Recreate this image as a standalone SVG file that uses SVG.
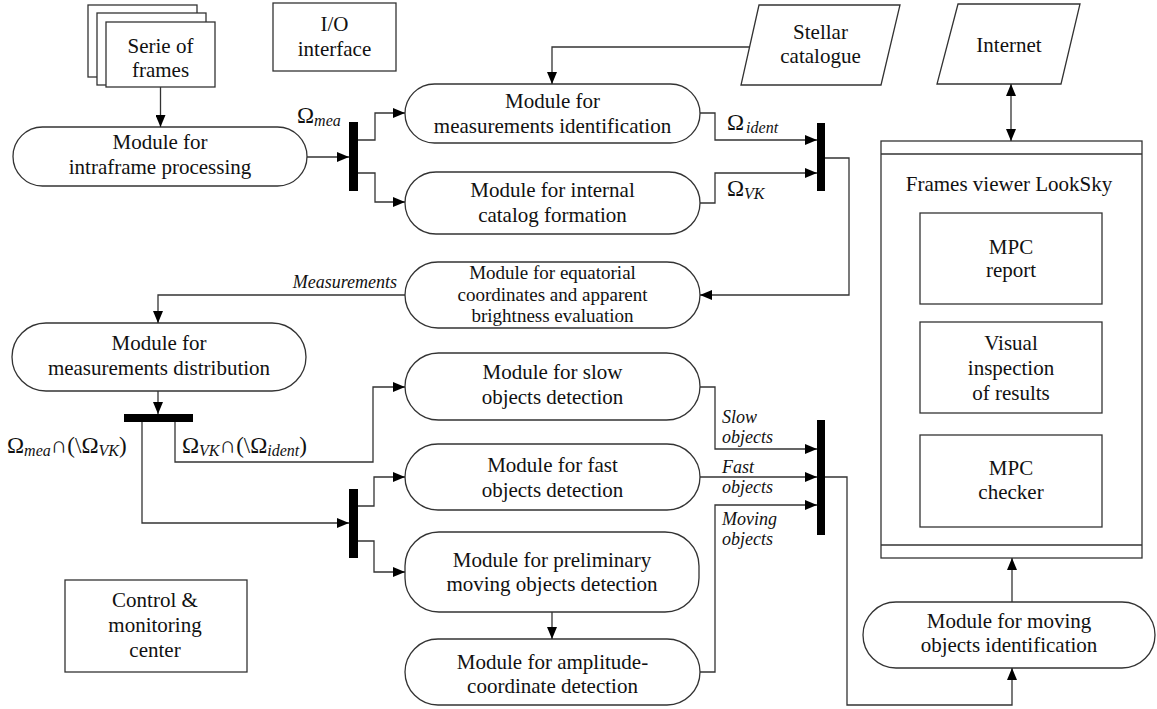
<svg xmlns="http://www.w3.org/2000/svg" width="1157" height="709" viewBox="0 0 1157 709">
<defs>
<marker id="arr" viewBox="0 0 12 10" refX="12" refY="5" markerWidth="12" markerHeight="10" orient="auto-start-reverse" markerUnits="userSpaceOnUse">
<path d="M0,0 L12,5 L0,10 z" fill="#000"/>
</marker>
</defs>
<style>
.n{fill:#fff;stroke:#333;stroke-width:1.3}
.bar{fill:#000;stroke:none}
text{font-family:'Liberation Serif','Nimbus Roman','Nimbus Roman No9 L',FreeSerif,'Noto Serif','DejaVu Serif',Times,serif}
.t{font-size:21px;fill:#111;text-anchor:middle}
.s{font-size:19px;fill:#111;text-anchor:middle}
.i{font-size:18px;font-style:italic;fill:#111}
.o{font-size:23px;fill:#111}
.sub{font-size:16px;font-style:italic}
.c path{fill:none;stroke:#333;stroke-width:1.3}
.c .a{marker-end:url(#arr)}
</style>
<rect width="1157" height="709" fill="#fff"/>

<g id="serie">
<rect class="n" x="88" y="5" width="109" height="72"/>
<rect class="n" x="97" y="13" width="109" height="72"/>
<rect class="n" x="106" y="22" width="109" height="65"/>
<text class="t" x="160.5" y="53">Serie of</text>
<text class="t" x="160.5" y="77">frames</text>
</g>

<g id="io">
<rect class="n" x="273" y="3" width="123" height="68"/>
<text class="t" x="334.5" y="31">I/O</text>
<text class="t" x="334.5" y="56">interface</text>
</g>

<g id="stellar">
<path class="n" d="M759,5 L900,5 L881,85 L741,85 Z"/>
<text class="t" x="820.5" y="39">Stellar</text>
<text class="t" x="820.5" y="63">catalogue</text>
</g>

<g id="internet">
<path class="n" d="M958,4 L1080,4 L1061,84 L937,84 Z"/>
<text class="t" x="1009" y="52">Internet</text>
</g>

<g id="intraframe">
<rect class="n" x="13" y="127" width="294" height="59" rx="29.5"/>
<text class="t" x="160" y="149">Module for</text>
<text class="t" x="160" y="174">intraframe processing</text>
</g>

<g id="measident">
<rect class="n" x="405" y="84" width="295" height="59" rx="29.5"/>
<text class="t" x="552.5" y="108">Module for</text>
<text class="t" x="552.5" y="133">measurements identification</text>
</g>

<g id="internal">
<rect class="n" x="405" y="172" width="295" height="62" rx="31"/>
<text class="t" x="552.5" y="197">Module for internal</text>
<text class="t" x="552.5" y="222">catalog formation</text>
</g>

<g id="equatorial">
<rect class="n" x="405" y="262" width="295" height="66" rx="33"/>
<text class="s" x="552.5" y="279">Module for equatorial</text>
<text class="s" x="552.5" y="301">coordinates and apparent</text>
<text class="s" x="552.5" y="322">brightness evaluation</text>
</g>

<g id="distribution">
<rect class="n" x="12" y="323" width="294" height="68" rx="34"/>
<text class="t" x="159" y="350">Module for</text>
<text class="t" x="159" y="375">measurements distribution</text>
</g>

<g id="slow">
<rect class="n" x="405" y="353" width="295" height="67" rx="33.5"/>
<text class="t" x="552.5" y="379">Module for slow</text>
<text class="t" x="552.5" y="404">objects detection</text>
</g>

<g id="fast">
<rect class="n" x="405" y="444" width="295" height="66" rx="33"/>
<text class="t" x="552.5" y="472">Module for fast</text>
<text class="t" x="552.5" y="497">objects detection</text>
</g>

<g id="preliminary">
<rect class="n" x="405" y="532" width="294" height="80" rx="34"/>
<text class="t" x="552" y="567">Module for preliminary</text>
<text class="t" x="552" y="591">moving objects detection</text>
</g>

<g id="amplitude">
<rect class="n" x="405" y="639" width="295" height="66" rx="33"/>
<text class="t" x="552.5" y="669">Module for amplitude-</text>
<text class="t" x="552.5" y="693">coordinate detection</text>
</g>

<g id="control">
<rect class="n" x="65" y="580" width="182" height="92"/>
<text class="t" x="155" y="607">Control &amp;</text>
<text class="t" x="155" y="632">monitoring</text>
<text class="t" x="155" y="657">center</text>
</g>

<g id="viewer">
<rect class="n" x="881" y="141" width="261" height="417"/>
<line x1="881" y1="154" x2="1142" y2="154" stroke="#333" stroke-width="1.3"/>
<line x1="881" y1="545" x2="1142" y2="545" stroke="#333" stroke-width="1.3"/>
<text class="t" x="1009" y="191">Frames viewer LookSky</text>
</g>

<g id="mpcreport">
<rect class="n" x="920" y="213" width="182" height="91"/>
<text class="t" x="1011" y="254">MPC</text>
<text class="t" x="1011" y="277">report</text>
</g>

<g id="visual">
<rect class="n" x="920" y="322" width="182" height="91"/>
<text class="t" x="1011" y="350">Visual</text>
<text class="t" x="1011" y="375">inspection</text>
<text class="t" x="1011" y="400">of results</text>
</g>

<g id="mpcchecker">
<rect class="n" x="920" y="435" width="182" height="92"/>
<text class="t" x="1011" y="475">MPC</text>
<text class="t" x="1011" y="499">checker</text>
</g>

<g id="movingident">
<rect class="n" x="863" y="602" width="292" height="66" rx="33"/>
<text class="t" x="1009" y="628">Module for moving</text>
<text class="t" x="1009" y="652">objects identification</text>
</g>

<g id="bars">
<rect class="bar" x="349" y="122" width="9" height="69"/>
<rect class="bar" x="817" y="123" width="8" height="68"/>
<rect class="bar" x="124" y="414" width="69" height="8"/>
<rect class="bar" x="349" y="489" width="9" height="69"/>
<rect class="bar" x="817" y="420" width="8" height="115"/>
</g>

<g id="connectors" class="c">
<path class="a" d="M160.5,87 V127"/>
<path class="a" d="M307,157 H349"/>
<path class="a" d="M358,140 H375 V113 H405"/>
<path class="a" d="M358,173 H375 V202 H405"/>
<path class="a" d="M750,47 H552 V84"/>
<path class="a" d="M700,113 H715 V140 H817"/>
<path class="a" d="M700,203 H715 V173 H817"/>
<path class="a" d="M825,158 H849 V295 H700"/>
<path class="a" d="M405,295 H158 V323"/>
<path class="a" d="M158,391 V414"/>
<path class="a" d="M142,422 V523 H349"/>
<path class="a" d="M175,422 V462 H373 V387 H405"/>
<path class="a" d="M358,506 H374 V477 H405"/>
<path class="a" d="M358,541 H374 V572 H405"/>
<path class="a" d="M552,612 V639"/>
<path class="a" d="M700,387 H715 V449 H817"/>
<path class="a" d="M700,477 H817"/>
<path class="a" d="M700,672 H715 V505 H817"/>
<path class="a" d="M825,477 H847 V705 H1012 V668"/>
<path class="a" d="M1012,602 V558"/>
<path class="a" d="M1011,84 V141" style="marker-start:url(#arr)"/>
</g>

<g id="labels">
<text class="o" x="297" y="123">Ω<tspan class="sub" dy="3">mea</tspan></text>
<text class="o" x="727" y="130">Ω<tspan class="sub" dx="2" dy="3">ident</tspan></text>
<text class="o" x="727" y="196">Ω<tspan class="sub" dy="3">VK</tspan></text>
<text class="o" x="7" y="453">Ω<tspan class="sub" dy="3">mea</tspan><tspan dy="-3">∩(\Ω</tspan><tspan class="sub" dy="3">VK</tspan><tspan dy="-3">)</tspan></text>
<text class="o" x="182" y="453">Ω<tspan class="sub" dy="3">VK</tspan><tspan dy="-3">∩(\Ω</tspan><tspan class="sub" dy="3">ident</tspan><tspan dy="-3">)</tspan></text>
<text class="i" x="397" y="288" text-anchor="end">Measurements</text>
<text class="i" x="722" y="423">Slow</text>
<text class="i" x="722" y="443">objects</text>
<text class="i" x="722" y="473">Fast</text>
<text class="i" x="722" y="493">objects</text>
<text class="i" x="722" y="525">Moving</text>
<text class="i" x="722" y="545">objects</text>
</g>
</svg>
